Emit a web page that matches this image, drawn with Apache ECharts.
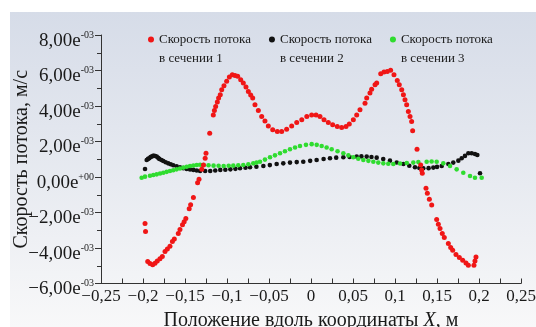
<!DOCTYPE html>
<html>
<head>
<meta charset="utf-8">
<script src="https://cdn.jsdelivr.net/npm/echarts@6/dist/echarts.min.js"></script>
<style>
  html, body { margin: 0; padding: 0; background: #ffffff; }
  #chart { width: 536px; height: 327px; }
</style>
</head>
<body>
<div id="chart"></div>
<script>
// Flow velocity profiles (m/s) along the X coordinate (m) in three sections

const seriesNames = [
  'Скорость потока\nв сечении 1',
  'Скорость потока\nв сечении 2',
  'Скорость потока\nв сечении 3'
];
const seriesColors = ['#f01616', '#111111', '#2fdc2f'];

// Section 1
const sec1X = [-0.1976, -0.197, -0.1944, -0.1917, -0.1885, -0.1857, -0.183, -0.1798, -0.177, -0.1738,
  -0.171, -0.1679, -0.165, -0.1627, -0.158, -0.156, -0.153, -0.151, -0.149, -0.145,
  -0.1433, -0.140, -0.135, -0.1333, -0.130, -0.128, -0.126, -0.125, -0.1206, -0.1163,
  -0.115, -0.1135, -0.1115, -0.110, -0.108, -0.1063, -0.1036, -0.1004, -0.0972, -0.0937,
  -0.0905, -0.0873, -0.0837, -0.0806, -0.0774, -0.0746, -0.0718, -0.0694, -0.0667, -0.0627,
  -0.0587, -0.0548, -0.0508, -0.0456, -0.0401, -0.0349, -0.029, -0.023, -0.017, -0.011,
  -0.005, 0.0008, 0.006, 0.0107, 0.0155, 0.0206, 0.0258, 0.0313, 0.0365, 0.0417,
  0.0456, 0.0504, 0.0544, 0.0583, 0.0643, 0.0663, 0.0702, 0.0722, 0.0762, 0.0782,
  0.083, 0.0869, 0.0908, 0.0948, 0.0988, 0.1027, 0.1051, 0.108, 0.110, 0.1119,
  0.1139, 0.1159, 0.1179, 0.1198, 0.121, 0.1262, 0.1306, 0.1317, 0.1325, 0.1369,
  0.1385, 0.1409, 0.1437, 0.1496, 0.1516, 0.1536, 0.1563, 0.1587, 0.1635, 0.1663,
  0.1687, 0.1726, 0.1766, 0.1806, 0.1845, 0.1873, 0.194, 0.1952, 0.1964];
const sec1V = [-2.62e-3, -3.07e-3, -4.76e-3, -4.88e-3, -4.95e-3, -4.86e-3, -4.73e-3, -4.60e-3, -4.48e-3, -4.20e-3,
  -4.05e-3, -3.90e-3, -3.63e-3, -3.49e-3, -3.18e-3, -2.96e-3, -2.69e-3, -2.52e-3, -2.34e-3, -1.79e-3,
  -1.56e-3, -1.15e-3, -0.32e-3, -0.13e-3, 0.43e-3, 0.68e-3, 1.06e-3, 1.34e-3, 2.47e-3, 3.50e-3,
  3.75e-3, 3.97e-3, 4.22e-3, 4.45e-3, 4.63e-3, 4.92e-3, 5.14e-3, 5.39e-3, 5.63e-3, 5.76e-3,
  5.72e-3, 5.67e-3, 5.48e-3, 5.29e-3, 5.07e-3, 4.82e-3, 4.62e-3, 4.45e-3, 4.07e-3, 3.74e-3,
  3.41e-3, 3.16e-3, 2.88e-3, 2.66e-3, 2.56e-3, 2.56e-3, 2.69e-3, 2.88e-3, 3.07e-3, 3.22e-3,
  3.41e-3, 3.50e-3, 3.50e-3, 3.41e-3, 3.22e-3, 3.07e-3, 2.94e-3, 2.84e-3, 2.79e-3, 2.84e-3,
  2.99e-3, 3.22e-3, 3.50e-3, 3.79e-3, 4.16e-3, 4.45e-3, 4.73e-3, 4.95e-3, 5.20e-3, 5.29e-3,
  5.82e-3, 5.91e-3, 5.95e-3, 6.01e-3, 5.76e-3, 5.44e-3, 5.20e-3, 4.92e-3, 4.63e-3, 4.35e-3,
  4.07e-3, 3.69e-3, 3.41e-3, 3.13e-3, 2.60e-3, 1.56e-3, 0.68e-3, 0.40e-3, 0.21e-3, -0.64e-3,
  -0.92e-3, -1.26e-3, -1.58e-3, -2.39e-3, -2.66e-3, -2.90e-3, -3.18e-3, -3.41e-3, -3.75e-3, -3.97e-3,
  -4.12e-3, -4.37e-3, -4.54e-3, -4.69e-3, -4.84e-3, -4.97e-3, -4.97e-3, -4.73e-3, -4.50e-3];

// Section 2
const sec2X = [-0.1976, -0.1956, -0.194, -0.1925, -0.191, -0.1897, -0.188, -0.1869, -0.1855, -0.1837,
  -0.182, -0.1806, -0.178, -0.1758, -0.173, -0.170, -0.167, -0.164, -0.160, -0.156,
  -0.152, -0.148, -0.144, -0.140, -0.136, -0.132, -0.126, -0.120, -0.114, -0.108,
  -0.102, -0.096, -0.090, -0.0845, -0.078, -0.0726, -0.065, -0.0567, -0.049, -0.0409,
  -0.033, -0.025, -0.017, -0.0092, -0.001, 0.0067, 0.015, 0.0226, 0.030, 0.0385,
  0.046, 0.0544, 0.060, 0.0663, 0.072, 0.0782, 0.086, 0.094, 0.102, 0.110,
  0.117, 0.1238, 0.129, 0.1337, 0.140, 0.1456, 0.150, 0.1556, 0.1635, 0.1694,
  0.1754, 0.1794, 0.1833, 0.1873, 0.1913, 0.1952, 0.198, 0.2012];
const sec2V = [0.45e-3, 0.96e-3, 1.02e-3, 1.06e-3, 1.12e-3, 1.15e-3, 1.19e-3, 1.20e-3, 1.18e-3, 1.15e-3,
  1.08e-3, 1.02e-3, 0.96e-3, 0.90e-3, 0.83e-3, 0.77e-3, 0.72e-3, 0.66e-3, 0.60e-3, 0.55e-3,
  0.50e-3, 0.45e-3, 0.42e-3, 0.40e-3, 0.37e-3, 0.34e-3, 0.34e-3, 0.34e-3, 0.37e-3, 0.40e-3,
  0.41e-3, 0.43e-3, 0.46e-3, 0.49e-3, 0.52e-3, 0.55e-3, 0.58e-3, 0.62e-3, 0.67e-3, 0.73e-3,
  0.77e-3, 0.81e-3, 0.84e-3, 0.86e-3, 0.91e-3, 0.96e-3, 1.01e-3, 1.06e-3, 1.09e-3, 1.11e-3,
  1.13e-3, 1.15e-3, 1.16e-3, 1.15e-3, 1.13e-3, 1.09e-3, 1.01e-3, 0.92e-3, 0.82e-3, 0.73e-3,
  0.63e-3, 0.55e-3, 0.51e-3, 0.49e-3, 0.50e-3, 0.53e-3, 0.57e-3, 0.62e-3, 0.73e-3, 0.81e-3,
  0.92e-3, 1.06e-3, 1.19e-3, 1.34e-3, 1.34e-3, 1.30e-3, 1.24e-3, 0.21e-3];

// Section 3
const sec3X = [-0.2016, -0.1976, -0.1917, -0.1877, -0.1837, -0.1797, -0.1758, -0.1718, -0.1679, -0.164,
  -0.160, -0.156, -0.152, -0.148, -0.144, -0.140, -0.136, -0.132, -0.128, -0.122,
  -0.116, -0.110, -0.104, -0.098, -0.0925, -0.0866, -0.0806, -0.0746, -0.0687, -0.0647,
  -0.0607, -0.0548, -0.0488, -0.0429, -0.0369, -0.031, -0.025, -0.019, -0.0131, -0.006,
  0.0008, 0.0068, 0.0127, 0.0186, 0.0246, 0.0316, 0.0385, 0.0445, 0.0504, 0.0563,
  0.0623, 0.0683, 0.0742, 0.0801, 0.0861, 0.092, 0.098, 0.106, 0.114, 0.1218,
  0.1278, 0.1377, 0.1436, 0.1496, 0.1575, 0.1655, 0.1734, 0.1813, 0.1893, 0.1952, 0.2032];
const sec3V = [-0.04e-3, 0.02e-3, 0.07e-3, 0.11e-3, 0.15e-3, 0.20e-3, 0.24e-3, 0.29e-3, 0.34e-3, 0.38e-3,
  0.43e-3, 0.48e-3, 0.53e-3, 0.58e-3, 0.62e-3, 0.65e-3, 0.68e-3, 0.69e-3, 0.68e-3, 0.66e-3,
  0.64e-3, 0.63e-3, 0.62e-3, 0.63e-3, 0.64e-3, 0.66e-3, 0.68e-3, 0.72e-3, 0.77e-3, 0.81e-3,
  0.86e-3, 0.98e-3, 1.11e-3, 1.22e-3, 1.34e-3, 1.45e-3, 1.56e-3, 1.66e-3, 1.75e-3, 1.81e-3,
  1.85e-3, 1.81e-3, 1.75e-3, 1.66e-3, 1.56e-3, 1.45e-3, 1.34e-3, 1.22e-3, 1.11e-3, 1.03e-3,
  0.96e-3, 0.91e-3, 0.86e-3, 0.81e-3, 0.77e-3, 0.75e-3, 0.73e-3, 0.76e-3, 0.79e-3, 0.81e-3,
  0.84e-3, 0.86e-3, 0.87e-3, 0.86e-3, 0.77e-3, 0.62e-3, 0.43e-3, 0.24e-3, 0.06e-3, -0.04e-3, -0.04e-3];

const allX = [sec1X, sec2X, sec3X];
const allV = [sec1V, sec2V, sec3V];

const SERIF = '"Liberation Serif", "DejaVu Serif", serif';
const MINUS = '\u2212';

// "8,00e⁻⁰³"-style scientific labels for the velocity axis
function sciParts(v) {
  if (Math.abs(v) < 1e-12) return { mant: '0,00e', exp: '+00' };
  const e = Math.floor(Math.log10(Math.abs(v)) + 1e-9);
  const m = v / Math.pow(10, e);
  const mant = Math.abs(m).toFixed(2).replace('.', ',');
  const sign = m < 0 ? MINUS : '';
  const expStr = (e < 0 ? '-' : '+') + String(Math.abs(e)).padStart(2, '0');
  return { mant: sign + mant + 'e', exp: expStr };
}

function xLabel(v) {
  const r = Math.round(v * 1000) / 1000;
  const s = String(Math.abs(r)).replace('.', ',');
  return (r < 0 ? MINUS : '') + s;
}

const chart = echarts.init(document.getElementById('chart'), null, { renderer: 'canvas' });

const series = seriesNames.map((name, i) => ({
  name: name,
  type: 'scatter',
  symbol: 'circle',
  symbolSize: i === 0 ? 5 : 4.6,
  itemStyle: { color: seriesColors[i], opacity: 1 },
  data: allX[i].map((x, k) => [x, allV[i][k]]),
  z: 3 + (i === 0 ? 2 : i === 2 ? 1 : 0)
}));

const option = {
  backgroundColor: '#ffffff',
  animation: false,
  graphic: [{
    type: 'rect',
    left: 10, top: 12,
    shape: { width: 526, height: 315 },
    z: -100,
    silent: true,
    style: {
      fill: new echarts.graphic.LinearGradient(0, 0, 0, 1, [
        { offset: 0, color: '#d6dce8' },
        { offset: 0.55, color: '#e8ebf1' },
        { offset: 1, color: '#f8f8f9' }
      ])
    }
  }],
  color: seriesColors,
  legend: {
    left: 148,
    top: 11,
    padding: 0,
    icon: 'circle',
    itemWidth: 6,
    itemHeight: 6,
    itemGap: 18,
    data: seriesNames,
    // a blank first line keeps the marker level with the first text line
    formatter: function (name) { return '\n' + name; },
    textStyle: {
      fontFamily: SERIF,
      fontSize: 13,
      lineHeight: 19,
      color: '#1a1a1a'
    }
  },
  grid: {
    left: 101, right: 15, top: 35, bottom: 43.5,
    containLabel: false,
    outerBoundsMode: 'none'
  },
  xAxis: {
    type: 'value',
    min: -0.25, max: 0.25, interval: 0.05,
    name: 'Положение вдоль координаты {i|X}, м',
    nameLocation: 'middle',
    nameGap: 27,
    nameMoveOverlap: false,
    nameTextStyle: {
      fontFamily: SERIF, fontSize: 20, color: '#1a1a1a',
      rich: { i: { fontFamily: SERIF, fontSize: 20, fontStyle: 'italic', color: '#1a1a1a' } }
    },
    axisLine: { show: true, onZero: false, lineStyle: { color: '#333', width: 1 } },
    axisTick: { show: true, inside: true, length: 5, lineStyle: { color: '#333' } },
    minorTick: { show: true, splitNumber: 2, length: 5, lineStyle: { color: '#333' } },
    splitLine: { show: false },
    axisLabel: {
      margin: 5,
      fontFamily: SERIF, fontSize: 17, color: '#1a1a1a',
      formatter: xLabel
    }
  },
  yAxis: {
    type: 'value',
    min: -6e-3, max: 8e-3, interval: 2e-3,
    name: 'Скорость потока, м/с',
    nameLocation: 'middle',
    nameGap: 69,
    nameMoveOverlap: false,
    nameRotate: 90,
    nameTextStyle: { fontFamily: SERIF, fontSize: 20, color: '#1a1a1a' },
    axisLine: { show: true, onZero: false, lineStyle: { color: '#333', width: 1 } },
    axisTick: { show: true, inside: false, length: 6, lineStyle: { color: '#333' } },
    minorTick: { show: true, splitNumber: 2, length: 4, lineStyle: { color: '#333' } },
    splitLine: { show: false },
    axisLabel: {
      margin: 7,
      color: '#1a1a1a',
      formatter: function (v) {
        const p = sciParts(v);
        return '{m|' + p.mant + '}{s|' + p.exp + '}';
      },
      rich: {
        m: { fontFamily: SERIF, fontSize: 19, color: '#1a1a1a', padding: [12, 0, 0, 0] },
        s: { fontFamily: SERIF, fontSize: 10, color: '#1a1a1a' }
      }
    }
  },
  series: series
};

chart.setOption(option);
</script>
</body>
</html>
